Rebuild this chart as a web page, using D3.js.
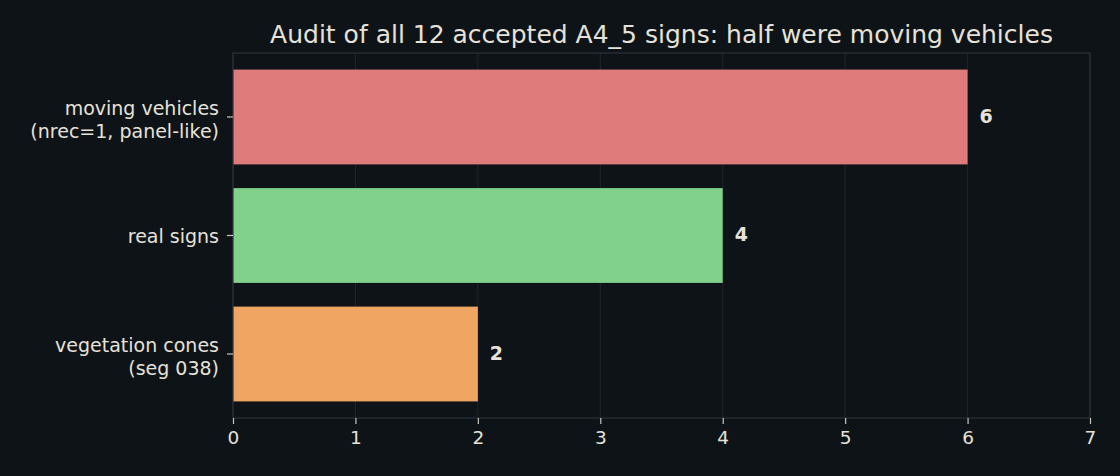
<!DOCTYPE html>
<meta charset="utf-8">
<script src="https://d3js.org/d3.v7.min.js"></script>
<style>
  body { margin: 0; background: #0e1317; }
  text { font-family: "DejaVu Sans", sans-serif; }
</style>
<div id="my_dataviz"></div>
<script>
  // data
  var categories = [["moving vehicles", "(nrec=1, panel-like)"], ["real signs"], ["vegetation cones", "(seg 038)"]];
  var counts = [6, 4, 2];
  var colors = ["#e07b7c", "#81d18d", "#f0a562"];
  var xTicks = [0, 1, 2, 3, 4, 5, 6, 7];
  var title = "Audit of all 12 accepted A4_5 signs: half were moving vehicles";

  var margin = { top: 53, right: 30, bottom: 58, left: 233 },
    width = 1120 - margin.left - margin.right,
    height = 476 - margin.top - margin.bottom;

  var svg = d3.select("#my_dataviz")
    .append("svg")
    .attr("width", 1120)
    .attr("height", 476)
    .style("background", "#0e1317");

  var g = svg.append("g")
    .attr("transform", "translate(" + margin.left + "," + margin.top + ")");

  var x = d3.scaleLinear().domain([0, 7]).range([0, width]);
  // category positions 0..2, bar height 0.8, 5% margins
  var y = d3.scaleLinear().domain([-0.54, 2.54]).range([0, height]);

  // grid
  g.append("g").selectAll("line")
    .data(xTicks)
    .enter().append("line")
    .attr("x1", function (d) { return x(d); })
    .attr("x2", function (d) { return x(d); })
    .attr("y1", 0).attr("y2", height)
    .attr("stroke", "#1f252b").attr("stroke-width", 1);

  // bars
  g.append("g").selectAll("rect")
    .data(counts)
    .enter().append("rect")
    .attr("x", x(0))
    .attr("y", function (d, i) { return y(i - 0.4); })
    .attr("width", function (d) { return x(d) - x(0); })
    .attr("height", y(0.4) - y(-0.4))
    .attr("fill", function (d, i) { return colors[i]; });

  // value labels
  g.append("g").selectAll("text")
    .data(counts)
    .enter().append("text")
    .attr("x", function (d) { return x(d) + 12; })
    .attr("y", function (d, i) { return y(i); })
    .attr("dy", "0.3em")
    .attr("fill", "#e6e2da")
    .attr("font-size", 19)
    .attr("font-weight", "bold")
    .text(function (d) { return d; });

  // frame
  g.append("rect")
    .attr("x", 0).attr("y", 0)
    .attr("width", width).attr("height", height)
    .attr("fill", "none")
    .attr("stroke", "#2c3238").attr("stroke-width", 1.2);

  // x axis
  var xAxis = g.append("g")
    .attr("transform", "translate(0," + height + ")")
    .call(d3.axisBottom(x).tickValues(xTicks).tickFormat(d3.format("d")).tickSize(6).tickPadding(7));
  xAxis.select(".domain").remove();
  xAxis.selectAll("line").attr("stroke", "#c8c5be").attr("stroke-width", 1.2);
  xAxis.selectAll("text").attr("fill", "#e6e2da").attr("font-size", 18.5)
    .style("font-family", "DejaVu Sans");

  // y axis
  var yAx = g.append("g");
  yAx.selectAll("line")
    .data(counts)
    .enter().append("line")
    .attr("x1", -6).attr("x2", 0)
    .attr("y1", function (d, i) { return y(i); })
    .attr("y2", function (d, i) { return y(i); })
    .attr("stroke", "#c8c5be").attr("stroke-width", 1.2);

  var yLabels = yAx.selectAll("text.ylab")
    .data(categories)
    .enter().append("text")
    .attr("class", "ylab")
    .attr("text-anchor", "end")
    .attr("fill", "#e6e2da")
    .attr("font-size", 19)
    .attr("transform", function (d, i) {
      var shift = d.length > 1 ? 2.5 : 0.5;
      return "translate(-14," + (y(i) + shift) + ")";
    });

  yLabels.selectAll("tspan")
    .data(function (d) { return d; })
    .enter().append("tspan")
    .attr("x", 0)
    .attr("y", function (d, j, nodes) {
      var n = nodes.length;
      return (j - (n - 1) / 2) * 23;
    })
    .attr("dy", "0.35em")
    .text(function (d) { return d; });

  // title
  svg.append("text")
    .attr("x", margin.left + width / 2)
    .attr("y", 43)
    .attr("text-anchor", "middle")
    .attr("fill", "#e6e2da")
    .attr("font-size", 25)
    .text(title);
</script>
